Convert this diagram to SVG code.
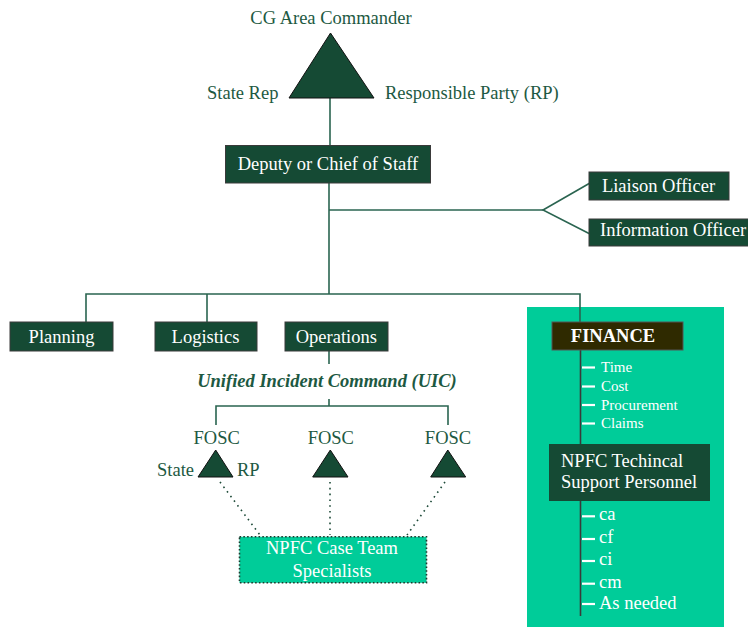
<svg xmlns="http://www.w3.org/2000/svg" width="748" height="627" viewBox="0 0 748 627">
<style>
text{font-family:"Liberation Serif","Times New Roman",serif;font-size:18.5px}
.lbl{fill:#1D5942}
.wt{fill:#FFFFFF}
.box{fill:#154A34;stroke:#3A3A3A;stroke-width:1}
.tri{fill:#154A34;stroke:#111;stroke-width:1}
.ln{stroke:#2A6450;stroke-width:1.6;fill:none}
.gl{stroke:#3A3A3A;stroke-width:1.6;fill:none}
.dash{stroke:#FFFFFF;stroke-width:2.2}
.dot{stroke:#1D4A38;stroke-width:1.6;stroke-dasharray:1.6 4.2;fill:none}
.sm{font-size:15px}
.mid{text-anchor:middle}
</style>
<rect id="finance-panel" x="527" y="307" width="197" height="320" fill="#00CC99"/>
<g id="connectors">
<line class="ln" x1="330" y1="98" x2="330" y2="146"/>
<line class="ln" x1="329" y1="183" x2="329" y2="294"/>
<line class="ln" x1="329" y1="210" x2="543" y2="210"/>
<polyline class="ln" points="590,183 543,210 590,234"/>
<polyline class="ln" points="86,322 86,294 580,294 580,322"/>
<line class="ln" x1="207" y1="294" x2="207" y2="322"/>
<line class="ln" x1="329" y1="351" x2="329" y2="364"/>
<line class="ln" x1="329" y1="399" x2="329" y2="406"/>
<polyline class="ln" points="216,425 216,406 448,406 448,425"/>
<line class="gl" x1="580.5" y1="350" x2="580.5" y2="444"/>
<line class="gl" x1="580.5" y1="501" x2="580.5" y2="616"/>
<line class="dot" x1="220" y1="482" x2="260" y2="535"/>
<line class="dot" x1="330" y1="482" x2="330" y2="535"/>
<line class="dot" x1="445" y1="482" x2="407" y2="535"/>
<g>
<line class="dash" x1="582" y1="367.5" x2="595" y2="367.5"/>
<line class="dash" x1="582" y1="386.5" x2="595" y2="386.5"/>
<line class="dash" x1="582" y1="405" x2="595" y2="405"/>
<line class="dash" x1="582" y1="423.5" x2="595" y2="423.5"/>
<line class="dash" x1="582" y1="516.3" x2="595" y2="516.3"/>
<line class="dash" x1="582" y1="539" x2="595" y2="539"/>
<line class="dash" x1="582" y1="561" x2="595" y2="561"/>
<line class="dash" x1="582" y1="583.7" x2="595" y2="583.7"/>
<line class="dash" x1="582" y1="604" x2="595" y2="604"/>
</g>
</g>
<g id="area-commander">
<polygon class="tri" points="330.5,33 289,98 374,98"/>
<text class="lbl mid" x="331" y="24">CG Area Commander</text>
<text class="lbl" x="207" y="99">State Rep</text>
<text class="lbl" x="385" y="99">Responsible Party (RP)</text>
</g>
<g id="deputy">
<rect class="box" x="225.5" y="145.5" width="205" height="37.5"/>
<text class="wt mid" x="328" y="170">Deputy or Chief of Staff</text>
</g>
<g id="liaison">
<rect class="box" x="589" y="172" width="140" height="28"/>
<text class="wt mid" x="658.5" y="192.3">Liaison Officer</text>
</g>
<g id="information">
<rect class="box" x="589" y="219" width="165" height="27"/>
<text class="wt" x="600" y="236">Information Officer</text>
</g>
<g id="planning">
<rect class="box" x="10" y="322" width="103" height="29"/>
<text class="wt mid" x="61.5" y="343.3">Planning</text>
</g>
<g id="logistics">
<rect class="box" x="155" y="322" width="102" height="29"/>
<text class="wt mid" x="205.5" y="343.3">Logistics</text>
</g>
<g id="operations">
<rect class="box" x="285" y="322" width="103" height="29"/>
<text class="wt mid" x="336.3" y="343.3">Operations</text>
</g>
<g id="uic">
<text class="lbl mid" x="327" y="387" font-weight="bold" font-style="italic">Unified Incident Command (UIC)</text>
</g>
<g id="fosc-1">
<text class="lbl mid" x="216.7" y="444">FOSC</text>
<polygon class="tri" points="215.7,450 198,477 233,477"/>
<text class="lbl" x="157" y="476">State</text>
<text class="lbl" x="237" y="476">RP</text>
</g>
<g id="fosc-2">
<text class="lbl mid" x="330.8" y="444">FOSC</text>
<polygon class="tri" points="330.3,450 312.7,477 348,477"/>
</g>
<g id="fosc-3">
<text class="lbl mid" x="448" y="444">FOSC</text>
<polygon class="tri" points="447.8,450 430.7,477 465.7,477"/>
</g>
<g id="case-team">
<rect x="239.5" y="536.8" width="187" height="46" fill="#00CC99" stroke="#1D3A2E" stroke-width="1.6" stroke-dasharray="1.6 2.2"/>
<text class="wt mid" x="332" y="554">NPFC Case Team</text>
<text class="wt mid" x="332" y="576.7">Specialists</text>
</g>
<g id="finance">
<rect x="552" y="322" width="131" height="28" fill="#2F2A00" stroke="#555" stroke-width="1"/>
<text class="wt mid" x="613" y="342" font-weight="bold">FINANCE</text>
<text class="wt sm" x="601" y="372.3">Time</text>
<text class="wt sm" x="601" y="391">Cost</text>
<text class="wt sm" x="601" y="410">Procurement</text>
<text class="wt sm" x="601" y="428.3">Claims</text>
</g>
<g id="technical">
<rect x="549" y="444" width="161" height="57" fill="#154A34"/>
<text class="wt" x="561" y="466.7">NPFC Techincal</text>
<text class="wt" x="561" y="488.3">Support Personnel</text>
<text class="wt" x="599" y="520">ca</text>
<text class="wt" x="599" y="542.7">cf</text>
<text class="wt" x="599" y="565">ci</text>
<text class="wt" x="599" y="588">cm</text>
<text class="wt" x="599" y="609">As needed</text>
</g>
</svg>
